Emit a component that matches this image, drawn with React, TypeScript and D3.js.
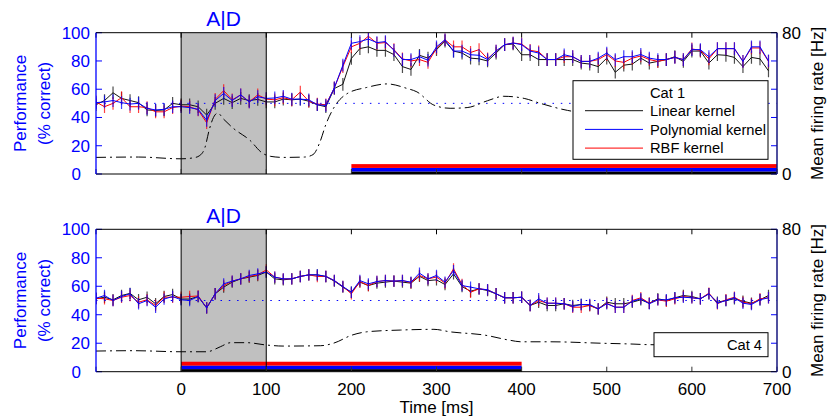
import React from 'react';
import * as d3 from 'd3';

// time axis (ms), one sample every 10 ms
const times: number[] = d3.range(-100, 700, 10);

// ---- Top panel (Cat 1) performance, % correct ----
const topLinear = [
  49, 52, 57.5, 53.5, 52, 50.5, 45.3, 45, 45.3, 50,
  49, 49, 47.6, 41.7, 50, 53.5, 50.5, 53.5, 52, 52.8,
  51, 51, 53, 52.5, 53, 51.5, 49, 47.6, 60.5, 63.5,
  81.8, 88.8, 90, 87.5, 87.5, 84.5, 76, 74, 84, 82,
  88, 94, 87, 85.6, 82, 81.5, 80, 85.6, 91.5, 92,
  84.4, 84.4, 81, 81, 81, 81, 81, 78.5, 77.8, 76,
  82, 72, 77, 77.8, 82, 78.5, 79.7, 81, 83, 79.7,
  87, 87, 78.5, 84.4, 84, 82.5, 76, 82.5, 81.5, 73,
];
const topPoly = [
  50.5, 51, 52, 50.5, 49.5, 50, 46.5, 45.3, 45.8, 47.6,
  47.6, 47, 45.8, 38, 52, 57, 52, 56, 51, 54.7,
  53.5, 53.8, 55, 53, 53, 52.5, 49, 48.5, 61, 77,
  92.5, 93.7, 95.5, 93, 93.7, 87.5, 81, 81, 83, 80.5,
  90, 95, 87, 87, 84.4, 84, 81, 87, 91.5, 92.7,
  91.5, 87, 85.6, 81, 81, 84.4, 83, 79.7, 79.7, 82,
  85.6, 81, 83, 83, 84.6, 82, 81, 81, 82.5, 81,
  88, 88, 83, 88.7, 88.7, 88.7, 79.7, 90, 90, 80,
];
const topRbf = [
  51, 47.6, 50, 54, 47.6, 47.6, 47, 44, 44, 47,
  48, 47.6, 45.3, 36.3, 52.8, 59, 52.5, 56, 51, 56,
  53, 52.5, 54, 52.5, 58, 51.5, 49.5, 49, 61, 76,
  90, 92.5, 97.5, 92.5, 93, 88, 81.5, 80, 81, 79,
  89, 95, 90, 90, 86, 88, 81.5, 87, 91.5, 92.7,
  92, 87.5, 86.5, 81, 81, 83, 83, 79.7, 79.7, 81,
  84.5, 80, 79, 82, 83.5, 81, 79.7, 81, 82.5, 81,
  88.5, 87.5, 81.5, 88.7, 88.7, 88.7, 79.7, 89.2, 89.2, 79.7,
];

// ---- Bottom panel (Cat 4) performance, % correct ----
const botLinear = [
  51.2, 52.3, 50.5, 53.5, 55, 50.5, 52.3, 47.7, 52.8, 54.2,
  51, 51, 52.8, 44.8, 54.7, 59.4, 62.9, 65.2, 66.4, 67.6,
  70, 65.2, 64.5, 65.2, 66.9, 68, 68, 66.9, 63.6, 59.4,
  55.8, 62.9, 60.5, 62.2, 62.9, 63.6, 62.9, 62.2, 67, 64,
  64.5, 61.2, 68.7, 59.8, 56.5, 58.2, 57, 54.7, 51.9, 51.9,
  52.3, 46.5, 48.8, 46.5, 46.5, 47.7, 46.5, 47.2, 46.5, 44.1,
  48.8, 47.7, 47.7, 48.8, 50.5, 48.1, 51.2, 50, 51.9, 53.5,
  52.8, 51.2, 54.7, 48.8, 50, 51.2, 49.5, 48.1, 50.5, 53.5,
];
const botPoly = [
  51.6, 53.5, 50, 52.8, 54.7, 47.7, 50, 45.3, 51, 52.8,
  50.5, 50, 52.8, 44.8, 54.7, 61.7, 63.6, 65.2, 67.6, 68.7,
  70, 66.4, 65.2, 65.2, 66.9, 68, 68, 66.9, 64, 59.8,
  55.8, 64, 61.7, 63.3, 64, 63.6, 64, 62.9, 69.2, 65.2,
  67.6, 62.9, 71, 60.5, 59.4, 58.2, 57.5, 54.7, 51.9, 51.9,
  52.3, 46.5, 51.2, 48.1, 48.1, 47.7, 45.8, 47.2, 47.2, 44.1,
  47.7, 45.3, 45.3, 49.5, 51.2, 47.7, 50.5, 50.5, 51.9, 52.3,
  51.9, 51.2, 54.7, 48.1, 50, 51.9, 48.1, 47.2, 50.5, 51.9,
];
const botRbf = [
  51.6, 51.2, 50, 52.3, 53.5, 48.8, 50.5, 46.5, 52.3, 52.3,
  52.3, 52.8, 53.2, 44.8, 54.7, 60.5, 63.6, 65.2, 66.9, 68,
  71.5, 66.4, 65.2, 65.2, 66.9, 68, 66.9, 66.9, 64, 59.8,
  54.7, 63.3, 60.5, 63.3, 64, 63.6, 64, 62.5, 67.6, 65.2,
  66.5, 62.2, 72.2, 61.2, 55.8, 58.2, 57.5, 54.7, 51.9, 51.9,
  52.3, 46.5, 50, 48.1, 48.1, 47.7, 45.3, 45.3, 46.5, 44.1,
  48.1, 45.3, 45.3, 50, 51.9, 48.1, 50.5, 49.5, 51.2, 52.8,
  51.9, 51.2, 55.2, 47.7, 50.5, 52.3, 48.8, 47.7, 51.2, 51.9,
];

// error bar half-widths (% correct): linear, polynomial, RBF
const topErr = [4.5, 4.5, 4.5];
const botErr = [4, 4, 4];

// mean firing rate (Hz)
const topRateT = [-100, -50, 0, 15, 22, 28, 33, 38, 43, 50, 61, 81, 95, 105, 120, 145, 155, 163, 170, 180, 195, 218, 242, 265, 277, 297, 316, 336, 360, 379, 403, 422, 454, 490, 540, 600];
const topRateHz = [9.4, 9.6, 8.6, 9.2, 10.5, 15, 25, 32, 34.5, 31, 26, 19, 12, 10, 9.4, 9.6, 11, 18, 28, 38, 45.5, 49, 51, 48.5, 46.5, 39, 37.2, 37.6, 41.5, 44, 42.8, 40, 36, 34, 35, 36];
const botRateT = [-100, -56, 0, 30, 46, 58, 77, 100, 120, 164, 179, 201, 218, 258, 297, 316, 356, 387, 399, 434, 493, 532, 548, 600, 650];
const botRateHz = [11.6, 11.8, 11.2, 11.2, 14, 16.3, 16.3, 15, 14.4, 14.6, 16, 20.6, 22.4, 23.4, 23.8, 22.4, 20.6, 17.6, 16.8, 16.8, 16, 15.5, 15.2, 15, 15];

// significance windows (ms)
const sigTop = [200, 700];
const sigBot = [0, 400];
const stimWindow = [0, 100];

const xTicks = [-100, 0, 100, 200, 300, 400, 500, 600, 700];
const xTickLabels = ['', '0', '100', '200', '300', '400', '500', '600', '700'];
const yTicks = [0, 20, 40, 60, 80, 100];
const rateTicks = [0, 80];
const seriesNames = ['Linear kernel', 'Polynomial kernel', 'RBF kernel'];
const chance = 50;

const FONT = '"Liberation Sans", Arial, Helvetica, sans-serif';
const BLUE = '#0000ff';
const RED = '#ff0000';
const BLACK = '#111111';
const NAVY = '#16167e';

const x = d3.scaleLinear().domain([-100, 700]).range([96, 777]);

type PanelProps = {
  id: string;
  top: number;
  bottom: number;
  lin: number[];
  poly: number[];
  rbf: number[];
  err: number[];
  rt: number[];
  rv: number[];
  sig: number[];
  showXLabels: boolean;
  legend: 'full' | 'cat4';
};

function Panel(p: PanelProps) {
  const y = d3.scaleLinear().domain([0, 100]).range([p.bottom, p.top]);
  const yr = d3.scaleLinear().domain([0, 80]).range([p.bottom, p.top]);
  const line = d3.line<number>().x((_, i) => x(times[i])).y((d) => y(d));
  const rateLine = d3
    .line<number>()
    .x((_, i) => x(p.rt[i]))
    .y((d) => yr(d))
    .curve(d3.curveMonotoneX);
  const series = [
    { vals: p.lin, color: BLACK, e: p.err[0] },
    { vals: p.rbf, color: RED, e: p.err[2] },
    { vals: p.poly, color: BLUE, e: p.err[1] },
  ];
  const [xl, xr] = x.range();
  const midY = (p.top + p.bottom) / 2;
  const bands = [
    { c: '#000000', lo: 0, hi: 1.8 },
    { c: BLUE, lo: 1.8, hi: 4.3 },
    { c: RED, lo: 4.3, hi: 7 },
  ];
  return (
    <g>
      <defs>
        <clipPath id={p.id}>
          <rect x={xl} y={p.top} width={xr - xl} height={p.bottom - p.top} />
        </clipPath>
      </defs>
      <rect
        x={x(stimWindow[0])}
        y={p.top}
        width={x(stimWindow[1]) - x(stimWindow[0])}
        height={p.bottom - p.top}
        fill="#c0c0c0"
      />
      <g clipPath={`url(#${p.id})`}>
        <line x1={xl} x2={xr} y1={y(chance)} y2={y(chance)} stroke={BLUE} strokeWidth={1} strokeDasharray="1.5,6.8" />
        <path d={rateLine(p.rv) || ''} fill="none" stroke="#000" strokeWidth={1} strokeDasharray="10,4,2,4" />
        {bands.map((b, i) => (
          <rect key={i} x={x(p.sig[0])} width={x(p.sig[1]) - x(p.sig[0])} y={y(b.hi)} height={y(b.lo) - y(b.hi)} fill={b.c} />
        ))}
        {series.map((s, si) => (
          <g key={si}>
            {s.vals.map((v, i) => (
              <line
                key={i}
                x1={x(times[i])}
                x2={x(times[i])}
                y1={y(v - s.e)}
                y2={y(v + s.e)}
                stroke={s.color}
                strokeOpacity={0.75}
                strokeWidth={1.2}
              />
            ))}
            <path d={line(s.vals) || ''} fill="none" stroke={s.color} strokeWidth={1} />
          </g>
        ))}
      </g>
      {/* stimulus window borders */}
      {stimWindow.map((t) => (
        <line key={t} x1={x(t)} x2={x(t)} y1={p.top} y2={p.bottom} stroke="#000" strokeWidth={1} />
      ))}
      {/* x ticks (inward, top and bottom) */}
      {xTicks.map((t) => (
        <g key={t}>
          <line x1={x(t)} x2={x(t)} y1={p.bottom} y2={p.bottom - 5} stroke="#333" strokeWidth={1} />
          <line x1={x(t)} x2={x(t)} y1={p.top} y2={p.top + 5} stroke="#000" strokeWidth={1} />
        </g>
      ))}
      {/* left ticks + mirrored right ticks */}
      {yTicks.map((t) => (
        <g key={t}>
          <line x1={xl} x2={xl + 6} y1={y(t)} y2={y(t)} stroke={BLUE} strokeWidth={1} />
          <line x1={xr} x2={xr - 6} y1={y(t)} y2={y(t)} stroke={BLUE} strokeWidth={1} />
          <text
            x={t === 0 ? 81 : 90}
            y={y(t)}
            dy="0.35em"
            textAnchor="end"
            fill={BLUE}
            fontSize={17}
            fontFamily={FONT}
          >
            {t}
          </text>
        </g>
      ))}
      {rateTicks.map((t) => (
        <text key={t} x={782} y={yr(t)} dy="0.35em" textAnchor="start" fill="#000" fontSize={17} fontFamily={FONT}>
          {t}
        </text>
      ))}
      {/* box */}
      <line x1={xl} x2={xr} y1={p.top} y2={p.top} stroke="#000" strokeWidth={1} />
      <line x1={xl} x2={xr} y1={p.bottom} y2={p.bottom} stroke="#000" strokeWidth={1} />
      <line x1={xl} x2={xl} y1={p.top} y2={p.bottom} stroke={BLUE} strokeWidth={1.3} />
      <line x1={xr} x2={xr} y1={p.top} y2={p.bottom} stroke={NAVY} strokeWidth={1.5} />
      {/* x tick labels */}
      {p.showXLabels &&
        xTicks.map((t, i) => (
          <text key={t} x={x(t)} y={395} textAnchor="middle" fill="#000" fontSize={17} fontFamily={FONT}>
            {xTickLabels[i]}
          </text>
        ))}
      {/* title */}
      <text
        x={(x(stimWindow[0]) + x(stimWindow[1])) / 2}
        y={p.top - 6.5}
        textAnchor="middle"
        fill={BLUE}
        fontSize={21}
        fontFamily={FONT}
      >
        A|D
      </text>
      {/* left label */}
      <text transform={`translate(26,${midY}) rotate(-90)`} textAnchor="middle" fill={BLUE} fontSize={17} fontFamily={FONT}>
        Performance
      </text>
      <text transform={`translate(49.5,${midY}) rotate(-90)`} textAnchor="middle" fill={BLUE} fontSize={17} fontFamily={FONT}>
        (% correct)
      </text>
      {/* right label */}
      <text transform={`translate(823,${midY}) rotate(-90)`} textAnchor="middle" fill="#000" fontSize={17} fontFamily={FONT}>
        Mean firing rate [Hz]
      </text>
      {/* legend */}
      {p.legend === 'full' ? (
        <g fontFamily={FONT} fontSize={14.7}>
          <rect x={573} y={80.7} width={195} height={78.6} fill="#fff" stroke="#000" strokeWidth={1} />
          <text x={650} y={93} dy="0.35em" fill="#000">
            Cat 1
          </text>
          {seriesNames.map((n, i) => (
            <g key={n}>
              <line x1={585} x2={643} y1={110.7 + i * 18.7} y2={110.7 + i * 18.7} stroke={[BLACK, BLUE, RED][i]} strokeWidth={1} />
              <text x={650} y={110.7 + i * 18.7} dy="0.35em" fill="#000">
                {n}
              </text>
            </g>
          ))}
        </g>
      ) : (
        <g fontFamily={FONT} fontSize={14.7}>
          <rect x={654} y={332.7} width={114} height={24} fill="#fff" stroke="#000" strokeWidth={1} />
          <text x={762} y={345} dy="0.35em" textAnchor="end" fill="#000">
            Cat 4
          </text>
        </g>
      )}
    </g>
  );
}

export default function App() {
  return (
    <svg
      width={827}
      height={417}
      style={{ position: 'absolute', left: 0, top: 0, background: '#fff' }}
      xmlns="http://www.w3.org/2000/svg"
    >
      <rect x={0} y={0} width={827} height={417} fill="#fff" />
      <Panel
        id="clipTop"
        top={32.7}
        bottom={174}
        lin={topLinear}
        poly={topPoly}
        rbf={topRbf}
        err={topErr}
        rt={topRateT}
        rv={topRateHz}
        sig={sigTop}
        showXLabels={false}
        legend="full"
      />
      <Panel
        id="clipBot"
        top={229.3}
        bottom={371.7}
        lin={botLinear}
        poly={botPoly}
        rbf={botRbf}
        err={botErr}
        rt={botRateT}
        rv={botRateHz}
        sig={sigBot}
        showXLabels={true}
        legend="cat4"
      />
      <text x={436.5} y={413} textAnchor="middle" fill="#000" fontSize={17} fontFamily={FONT}>
        Time [ms]
      </text>
    </svg>
  );
}
